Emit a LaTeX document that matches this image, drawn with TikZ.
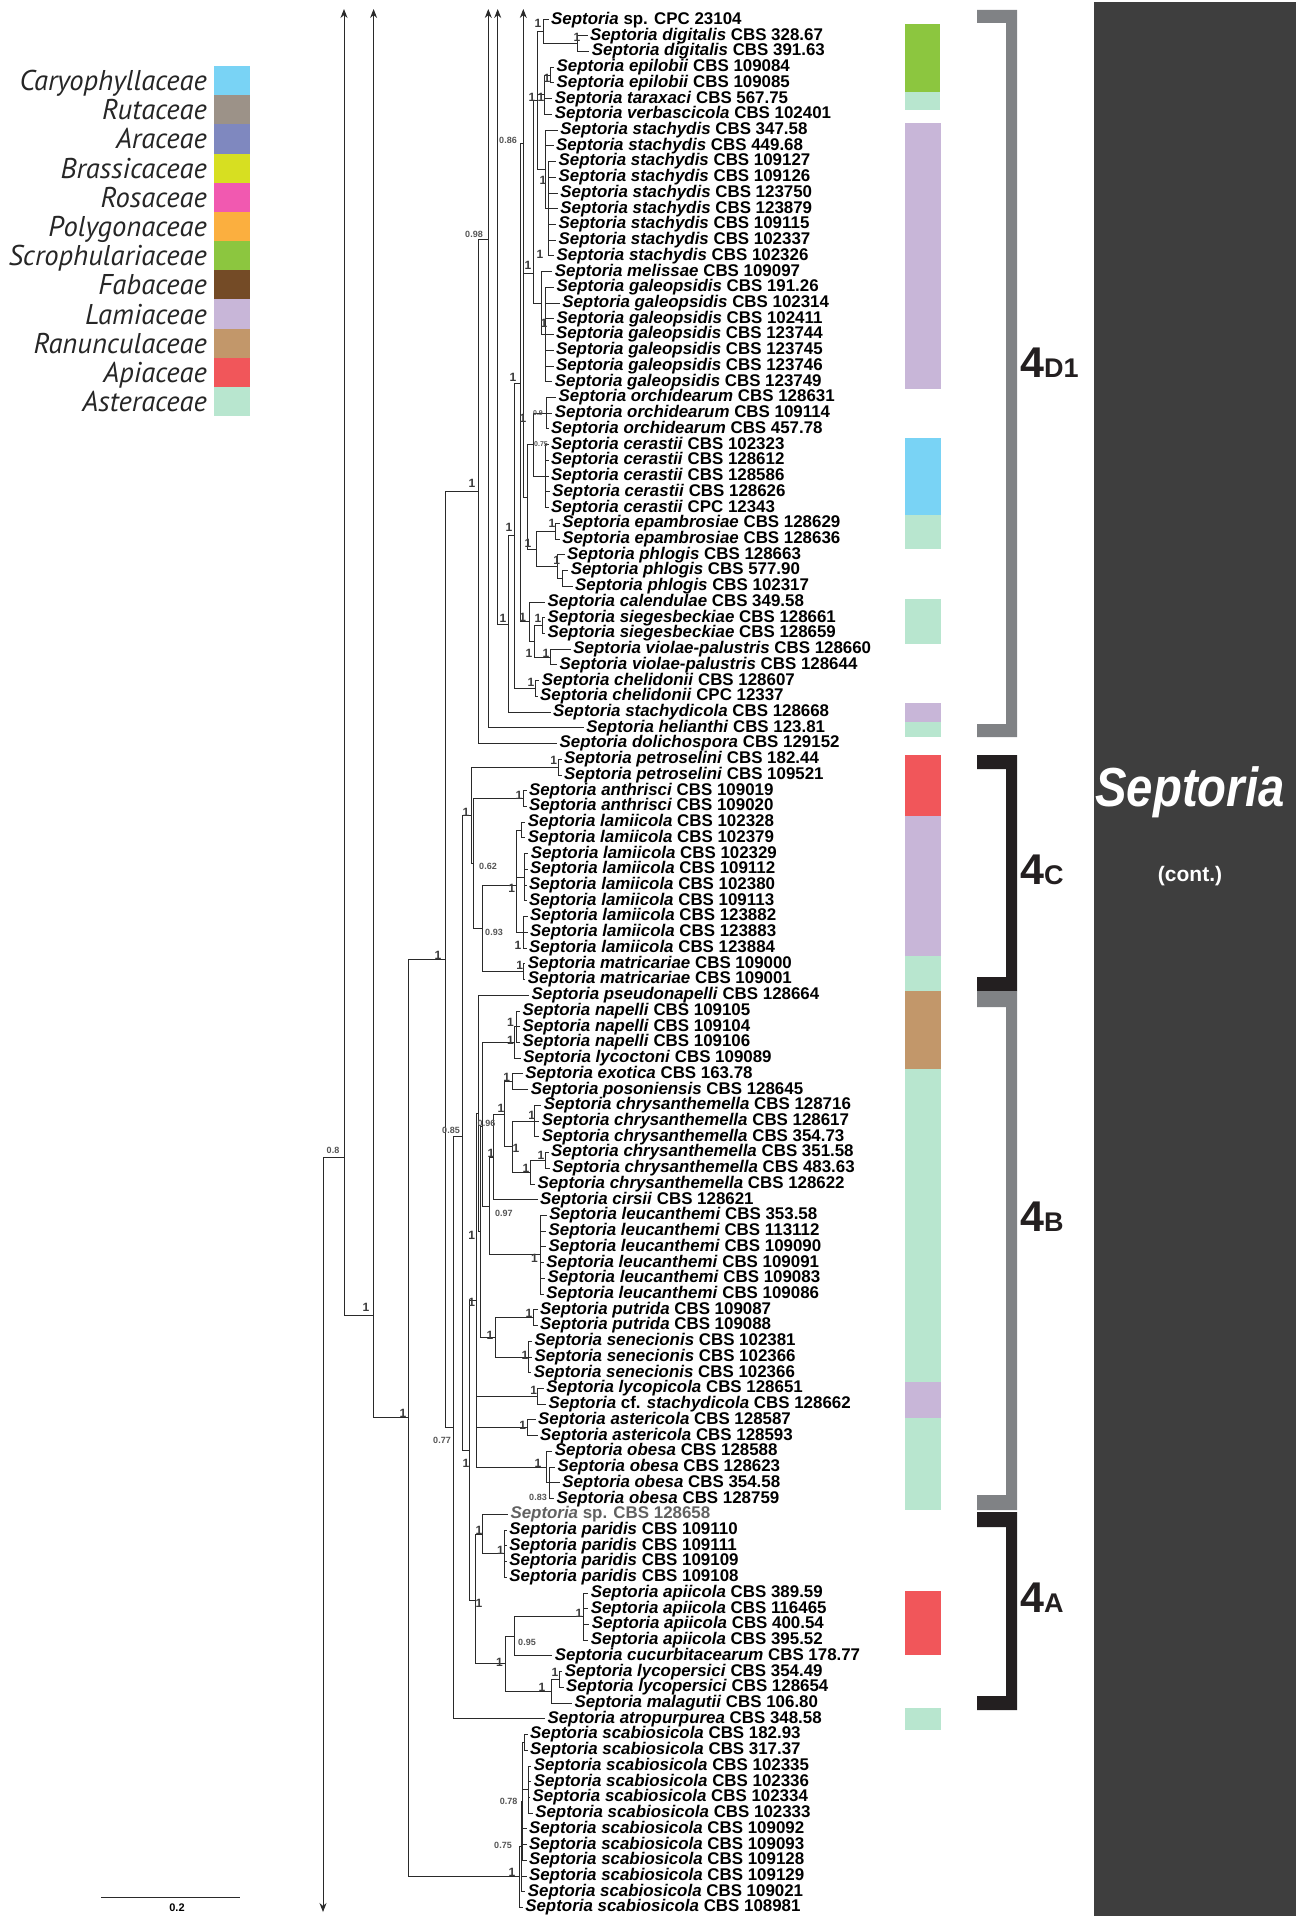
\documentclass[tikz,border=0pt]{standalone}
\usepackage{fontspec}
\setmainfont{Liberation Sans}
\newfontfamily\legfont{PT Sans}
\newfontfamily\panelfont[FakeStretch=0.86]{Liberation Sans}
\usetikzlibrary{arrows.meta}
\definecolor{treec}{HTML}{2A2A2A}
\definecolor{supc}{HTML}{3A3A3A}
\definecolor{decc}{HTML}{555555}
\definecolor{caryo}{HTML}{79D3F5}
\definecolor{ruta}{HTML}{9C9288}
\definecolor{ara}{HTML}{7F88BF}
\definecolor{brass}{HTML}{D7DF21}
\definecolor{rosa}{HTML}{F159B0}
\definecolor{poly}{HTML}{FBAF3F}
\definecolor{scro}{HTML}{8CC63F}
\definecolor{faba}{HTML}{744B26}
\definecolor{lami}{HTML}{C8B6D8}
\definecolor{ranu}{HTML}{C2976A}
\definecolor{apia}{HTML}{F1565A}
\definecolor{aste}{HTML}{B8E6CF}
\definecolor{brgrey}{HTML}{808285}
\definecolor{brblack}{HTML}{231F20}
\definecolor{panel}{HTML}{3E3E3E}
\newcommand\Sep[1]{\textit{Septoria #1}}
\newcommand\Gen{\textit{Septoria}}
\newcommand\taxfont{\fontsize{16.9}{17}\selectfont\bfseries}
\newcommand\edg[2]{\draw[br] (#1) |- (#2);}
\newcommand\tipe[2]{\draw[br] (#1) |- (n#2.west);}
\newcommand\tipes[2]{\foreach \k in {#2}{\draw[br] (#1) |- (n\k.west);}}
\begin{document}
\begin{tikzpicture}[x=1pt,y=-1pt,
  br/.style={line width=1.0pt, draw=treec, line cap=rect},
  arr/.style={-{Stealth[length=9pt,width=7pt]}},
  tax/.style={anchor=west, inner sep=0pt, outer xsep=3pt, outer ysep=0pt, font=\taxfont, text=black},
  sup/.style={inner sep=0pt, font=\fontsize{12}{12}\selectfont\bfseries, text=supc},
  dec/.style={inner sep=0pt, font=\fontsize{9}{9}\selectfont\bfseries, text=decc},
  leg/.style={anchor=base east, inner sep=0pt, font=\legfont\itshape\fontsize{28.6}{28.6}\selectfont, text=black!85},
  grp/.style={anchor=base west, inner sep=0pt, text=brblack}]
\useasboundingbox (0,0) rectangle (1301,1916);

% ---------------- legend ----------------
\foreach \c [count=\i from 0] in {caryo,ruta,ara,brass,rosa,poly,scro,faba,lami,ranu,apia,aste}
  \fill[\c] (214,{66+29.17*\i}) rectangle (250,{66+29.17*(\i+1)});
\node[leg] (g1) at (207,90.6) {Caryophyllaceae};
\node[leg] (g2) at (207,119.8) {Rutaceae};
\node[leg] (g3) at (207,148.9) {Araceae};
\node[leg] (g4) at (207,178.1) {Brassicaceae};
\node[leg] (g5) at (207,207.3) {Rosaceae};
\node[leg] (g6) at (207,236.5) {Polygonaceae};
\node[leg] (g7) at (207,265.6) {Scrophulariaceae};
\node[leg] (g8) at (207,294.8) {Fabaceae};
\node[leg] (g9) at (207,324.0) {Lamiaceae};
\node[leg] (g10) at (207,353.1) {Ranunculaceae};
\node[leg] (g11) at (207,382.3) {Apiaceae};
\node[leg] (g12) at (207,411.5) {Asteraceae};

% ---------------- host colour strips ----------------
\fill[scro] (905,24) rectangle (940,92);
\fill[aste] (905,92) rectangle (940,110);
\fill[lami] (905,123) rectangle (941,389);
\fill[caryo] (905,437.5) rectangle (941,514.5);
\fill[aste] (905,514.5) rectangle (941,548.7);
\fill[aste] (905,599) rectangle (941,644);
\fill[lami] (905,702.7) rectangle (941,722);
\fill[aste] (905,722) rectangle (941,737);
\fill[apia] (905,755) rectangle (941,816);
\fill[lami] (905,816) rectangle (941,955.6);
\fill[aste] (905,955.6) rectangle (941,991);
\fill[ranu] (905,991) rectangle (941,1069);
\fill[aste] (905,1069) rectangle (941,1382);
\fill[lami] (905,1382) rectangle (941,1417.5);
\fill[aste] (905,1417.5) rectangle (941,1510);
\fill[apia] (905,1591) rectangle (941,1654.6);
\fill[aste] (905,1708) rectangle (941,1730);

% ---------------- brackets ----------------
\fill[brgrey] (977,10) rectangle (1017,23) (1006,10) rectangle (1017,737) (977,724) rectangle (1017,737);
\fill[brblack] (977,755) rectangle (1017,769) (1006,755) rectangle (1017,991) (977,977) rectangle (1017,991);
\fill[brgrey] (977,991) rectangle (1017,1007) (1006,991) rectangle (1017,1510) (977,1495) rectangle (1017,1510);
\fill[brblack] (977,1512) rectangle (1017,1527) (1006,1512) rectangle (1017,1710) (977,1696) rectangle (1017,1710);
\node[grp] (q1) at (1020,377) {\fontsize{43}{43}\selectfont\bfseries 4\fontsize{27}{27}\selectfont D1};
\node[grp] (q2) at (1020,884) {\fontsize{43}{43}\selectfont\bfseries 4\fontsize{27}{27}\selectfont C};
\node[grp] (q3) at (1020,1231) {\fontsize{43}{43}\selectfont\bfseries 4\fontsize{27}{27}\selectfont B};
\node[grp] (q4) at (1020,1612) {\fontsize{43}{43}\selectfont\bfseries 4\fontsize{27}{27}\selectfont A};

% ---------------- dark panel ----------------
\fill[panel] (1094,2) rectangle (1296,1916);
\node[inner sep=0pt, text=white, font=\panelfont\bfseries\itshape\fontsize{55}{55}\selectfont] (pt) at (1190,792) {Septoria};
\node[inner sep=0pt, text=white, font=\bfseries\fontsize{21}{21}\selectfont] (pc) at (1190,876) {(cont.)};

% ---------------- taxa ----------------
\node[tax] (n1) at (548.2,20) {\Gen{} sp. CPC 23104};
\node[tax] (n2) at (587,35.73) {\Sep{digitalis} CBS 328.67};
\node[tax] (n3) at (588.9,51.46) {\Sep{digitalis} CBS 391.63};
\node[tax] (n4) at (553.7,67.19) {\Sep{epilobii} CBS 109084};
\node[tax] (n5) at (553.7,82.92) {\Sep{epilobii} CBS 109085};
\node[tax] (n6) at (551.9,98.65) {\Sep{taraxaci} CBS 567.75};
\node[tax] (n7) at (551.9,114.38) {\Sep{verbascicola} CBS 102401};
\node[tax] (n8) at (557.4,130.11) {\Sep{stachydis} CBS 347.58};
\node[tax] (n9) at (553,145.84) {\Sep{stachydis} CBS 449.68};
\node[tax] (n10) at (555.6,161.57) {\Sep{stachydis} CBS 109127};
\node[tax] (n11) at (555.6,177.3) {\Sep{stachydis} CBS 109126};
\node[tax] (n12) at (557.4,193.03) {\Sep{stachydis} CBS 123750};
\node[tax] (n13) at (557.4,208.76) {\Sep{stachydis} CBS 123879};
\node[tax] (n14) at (555.6,224.49) {\Sep{stachydis} CBS 109115};
\node[tax] (n15) at (555.6,240.22) {\Sep{stachydis} CBS 102337};
\node[tax] (n16) at (553.7,255.95) {\Sep{stachydis} CBS 102326};
\node[tax] (n17) at (551.9,271.68) {\Sep{melissae} CBS 109097};
\node[tax] (n18) at (553.7,287.41) {\Sep{galeopsidis} CBS 191.26};
\node[tax] (n19) at (559.3,303.14) {\Sep{galeopsidis} CBS 102314};
\node[tax] (n20) at (553.7,318.87) {\Sep{galeopsidis} CBS 102411};
\node[tax] (n21) at (553,334.6) {\Sep{galeopsidis} CBS 123744};
\node[tax] (n22) at (553,350.33) {\Sep{galeopsidis} CBS 123745};
\node[tax] (n23) at (553,366.06) {\Sep{galeopsidis} CBS 123746};
\node[tax] (n24) at (551.9,381.79) {\Sep{galeopsidis} CBS 123749};
\node[tax] (n25) at (555.6,397.52) {\Sep{orchidearum} CBS 128631};
\node[tax] (n26) at (551.9,413.25) {\Sep{orchidearum} CBS 109114};
\node[tax] (n27) at (548.2,428.98) {\Sep{orchidearum} CBS 457.78};
\node[tax] (n28) at (548.2,444.71) {\Sep{cerastii} CBS 102323};
\node[tax] (n29) at (548.2,460.44) {\Sep{cerastii} CBS 128612};
\node[tax] (n30) at (548.2,476.17) {\Sep{cerastii} CBS 128586};
\node[tax] (n31) at (549.3,491.9) {\Sep{cerastii} CBS 128626};
\node[tax] (n32) at (548.2,507.63) {\Sep{cerastii} CPC 12343};
\node[tax] (n33) at (559.3,523.36) {\Sep{epambrosiae} CBS 128629};
\node[tax] (n34) at (559.3,539.09) {\Sep{epambrosiae} CBS 128636};
\node[tax] (n35) at (564.1,554.82) {\Sep{phlogis} CBS 128663};
\node[tax] (n36) at (567.8,570.55) {\Sep{phlogis} CBS 577.90};
\node[tax] (n37) at (572.2,586.28) {\Sep{phlogis} CBS 102317};
\node[tax] (n38) at (544.5,602.01) {\Sep{calendulae} CBS 349.58};
\node[tax] (n39) at (544.5,617.74) {\Sep{siegesbeckiae} CBS 128661};
\node[tax] (n40) at (544.5,633.47) {\Sep{siegesbeckiae} CBS 128659};
\node[tax] (n41) at (570.4,649.2) {\Sep{violae-palustris} CBS 128660};
\node[tax] (n42) at (556.7,664.93) {\Sep{violae-palustris} CBS 128644};
\node[tax] (n43) at (538.9,680.66) {\Sep{chelidonii} CBS 128607};
\node[tax] (n44) at (537.1,696.39) {\Sep{chelidonii} CPC 12337};
\node[tax] (n45) at (550,712.12) {\Sep{stachydicola} CBS 128668};
\node[tax] (n46) at (583.3,727.85) {\Sep{helianthi} CBS 123.81};
\node[tax] (n47) at (556.7,743.58) {\Sep{dolichospora} CBS 129152};
\node[tax] (n48) at (561.1,759.31) {\Sep{petroselini} CBS 182.44};
\node[tax] (n49) at (561.1,775.04) {\Sep{petroselini} CBS 109521};
\node[tax] (n50) at (526,790.77) {\Sep{anthrisci} CBS 109019};
\node[tax] (n51) at (526,806.5) {\Sep{anthrisci} CBS 109020};
\node[tax] (n52) at (524.9,822.23) {\Sep{lamiicola} CBS 102328};
\node[tax] (n53) at (524.9,837.96) {\Sep{lamiicola} CBS 102379};
\node[tax] (n54) at (527.8,853.69) {\Sep{lamiicola} CBS 102329};
\node[tax] (n55) at (527.1,869.42) {\Sep{lamiicola} CBS 109112};
\node[tax] (n56) at (526,885.15) {\Sep{lamiicola} CBS 102380};
\node[tax] (n57) at (526,900.88) {\Sep{lamiicola} CBS 109113};
\node[tax] (n58) at (527.1,916.61) {\Sep{lamiicola} CBS 123882};
\node[tax] (n59) at (527.1,932.34) {\Sep{lamiicola} CBS 123883};
\node[tax] (n60) at (526,948.07) {\Sep{lamiicola} CBS 123884};
\node[tax] (n61) at (524.9,963.8) {\Sep{matricariae} CBS 109000};
\node[tax] (n62) at (524.9,979.53) {\Sep{matricariae} CBS 109001};
\node[tax] (n63) at (528.6,995.26) {\Sep{pseudonapelli} CBS 128664};
\node[tax] (n64) at (519.7,1010.99) {\Sep{napelli} CBS 109105};
\node[tax] (n65) at (519.7,1026.72) {\Sep{napelli} CBS 109104};
\node[tax] (n66) at (519.7,1042.45) {\Sep{napelli} CBS 109106};
\node[tax] (n67) at (520.4,1058.18) {\Sep{lycoctoni} CBS 109089};
\node[tax] (n68) at (522.3,1073.91) {\Sep{exotica} CBS 163.78};
\node[tax] (n69) at (527.8,1089.64) {\Sep{posoniensis} CBS 128645};
\node[tax] (n70) at (540.8,1105.37) {\Sep{chrysanthemella} CBS 128716};
\node[tax] (n71) at (538.9,1121.1) {\Sep{chrysanthemella} CBS 128617};
\node[tax] (n72) at (538.9,1136.83) {\Sep{chrysanthemella} CBS 354.73};
\node[tax] (n73) at (548.2,1152.56) {\Sep{chrysanthemella} CBS 351.58};
\node[tax] (n74) at (549.3,1168.29) {\Sep{chrysanthemella} CBS 483.63};
\node[tax] (n75) at (534.5,1184.02) {\Sep{chrysanthemella} CBS 128622};
\node[tax] (n76) at (537.1,1199.75) {\Sep{cirsii} CBS 128621};
\node[tax] (n77) at (546.3,1215.48) {\Sep{leucanthemi} CBS 353.58};
\node[tax] (n78) at (545.6,1231.21) {\Sep{leucanthemi} CBS 113112};
\node[tax] (n79) at (545.6,1246.94) {\Sep{leucanthemi} CBS 109090};
\node[tax] (n80) at (543.4,1262.67) {\Sep{leucanthemi} CBS 109091};
\node[tax] (n81) at (544.5,1278.4) {\Sep{leucanthemi} CBS 109083};
\node[tax] (n82) at (543.4,1294.13) {\Sep{leucanthemi} CBS 109086};
\node[tax] (n83) at (537.1,1309.86) {\Sep{putrida} CBS 109087};
\node[tax] (n84) at (537.1,1325.59) {\Sep{putrida} CBS 109088};
\node[tax] (n85) at (531.5,1341.32) {\Sep{senecionis} CBS 102381};
\node[tax] (n86) at (531.5,1357.05) {\Sep{senecionis} CBS 102366};
\node[tax] (n87) at (530.8,1372.78) {\Sep{senecionis} CBS 102366};
\node[tax] (n88) at (543.4,1388.51) {\Sep{lycopicola} CBS 128651};
\node[tax] (n89) at (545.6,1404.24) {\Gen{} cf. \textit{stachydicola} CBS 128662};
\node[tax] (n90) at (535.2,1419.97) {\Sep{astericola} CBS 128587};
\node[tax] (n91) at (537.1,1435.7) {\Sep{astericola} CBS 128593};
\node[tax] (n92) at (551.9,1451.43) {\Sep{obesa} CBS 128588};
\node[tax] (n93) at (554.5,1467.16) {\Sep{obesa} CBS 128623};
\node[tax] (n94) at (559.3,1482.89) {\Sep{obesa} CBS 354.58};
\node[tax] (n95) at (553.7,1498.62) {\Sep{obesa} CBS 128759};
\node[tax, text=black!62] (n96) at (507.5,1514.35) {\Gen{} sp. CBS 128658};
\node[tax] (n97) at (506.4,1530.08) {\Sep{paridis} CBS 109110};
\node[tax] (n98) at (506.4,1545.81) {\Sep{paridis} CBS 109111};
\node[tax] (n99) at (506.4,1561.54) {\Sep{paridis} CBS 109109};
\node[tax] (n100) at (506.4,1577.27) {\Sep{paridis} CBS 109108};
\node[tax] (n101) at (587.8,1593) {\Sep{apiicola} CBS 389.59};
\node[tax] (n102) at (587.8,1608.73) {\Sep{apiicola} CBS 116465};
\node[tax] (n103) at (588.9,1624.46) {\Sep{apiicola} CBS 400.54};
\node[tax] (n104) at (587.8,1640.19) {\Sep{apiicola} CBS 395.52};
\node[tax] (n105) at (551.9,1655.92) {\Sep{cucurbitacearum} CBS 178.77};
\node[tax] (n106) at (561.9,1671.65) {\Sep{lycopersici} CBS 354.49};
\node[tax] (n107) at (563,1687.38) {\Sep{lycopersici} CBS 128654};
\node[tax] (n108) at (571.5,1703.11) {\Sep{malagutii} CBS 106.80};
\node[tax] (n109) at (544.5,1718.84) {\Sep{atropurpurea} CBS 348.58};
\node[tax] (n110) at (527.1,1734.57) {\Sep{scabiosicola} CBS 182.93};
\node[tax] (n111) at (527.1,1750.3) {\Sep{scabiosicola} CBS 317.37};
\node[tax] (n112) at (530.8,1766.03) {\Sep{scabiosicola} CBS 102335};
\node[tax] (n113) at (530.8,1781.76) {\Sep{scabiosicola} CBS 102336};
\node[tax] (n114) at (529.7,1797.49) {\Sep{scabiosicola} CBS 102334};
\node[tax] (n115) at (532.3,1813.22) {\Sep{scabiosicola} CBS 102333};
\node[tax] (n116) at (526,1828.95) {\Sep{scabiosicola} CBS 109092};
\node[tax] (n117) at (526,1844.68) {\Sep{scabiosicola} CBS 109093};
\node[tax] (n118) at (526,1860.41) {\Sep{scabiosicola} CBS 109128};
\node[tax] (n119) at (526,1876.14) {\Sep{scabiosicola} CBS 109129};
\node[tax] (n120) at (524.9,1891.87) {\Sep{scabiosicola} CBS 109021};
\node[tax] (n121) at (522.3,1907.6) {\Sep{scabiosicola} CBS 108981};

% ---------------- internal nodes ----------------
\coordinate (A) at (323,1157);
\coordinate (B) at (344,1157);
\coordinate (C) at (373.6,1315);
\coordinate (D) at (408.8,1417.7);
\coordinate (E) at (445.8,959.4);
\coordinate (F) at (478.3,491.3);
\coordinate (G) at (453.2,1427.4);
\coordinate (H) at (462.4,1136);
\coordinate (I) at (488.3,239);
\coordinate (J) at (497.7,624);
\coordinate (M) at (508.3,624);
\coordinate (N) at (514.3,535.7);
\coordinate (O) at (520.7,383);
\coordinate (K) at (523.3,144);
\coordinate (T) at (533.3,273);
\coordinate (R) at (537.7,101);
\coordinate (P1) at (543.3,31.8);
\coordinate (DIG) at (577.5,43.6);
\coordinate (Q) at (544,94.7);
\coordinate (EPI) at (550.5,75.05);
\coordinate (V) at (545,169.4);
\coordinate (STA) at (548.5,208.76);
\coordinate (W) at (541,303.1);
\coordinate (GAL) at (545,334.6);
\coordinate (X) at (527.7,497);
\coordinate (U) at (533.8,444.7);
\coordinate (ORC) at (546,413.25);
\coordinate (CER) at (545.6,476.17);
\coordinate (EP) at (536.7,549);
\coordinate (EPA) at (555,531.2);
\coordinate (PHL) at (557,566.7);
\coordinate (PN) at (562,578.4);
\coordinate (CAL) at (529,621.7);
\coordinate (SV) at (534.5,641.4);
\coordinate (SIE) at (542,625.6);
\coordinate (VIO) at (550,657.1);
\coordinate (CHE) at (535,688.5);
% 4C
\coordinate (C4) at (471.7,815);
\coordinate (PET) at (558,767.2);
\coordinate (Y) at (473.5,863);
\coordinate (ANT) at (523.5,798.6);
\coordinate (Z) at (482.8,928);
\coordinate (LAM) at (516,885);
\coordinate (L1) at (521.5,830.1);
\coordinate (L2) at (524,877.3);
\coordinate (L3) at (523.5,932.3);
\coordinate (MAT) at (523,971.7);
% 4B
\coordinate (A4p) at (469,1450);
\coordinate (B4) at (476.5,1300);
\coordinate (BB) at (478,1113);
\coordinate (PQ) at (480,1231.5);
\coordinate (NB) at (482.8,1126);
\coordinate (NAP) at (514.2,1042.5);
\coordinate (NAP1) at (516.5,1026.7);
\coordinate (NL) at (489.4,1206);
\coordinate (NC) at (493,1157);
\coordinate (EC) at (504.2,1114);
\coordinate (EXP) at (512.3,1081.8);
\coordinate (CH) at (512.3,1146.7);
\coordinate (C1) at (534.5,1121.1);
\coordinate (C2) at (530.8,1172.2);
\coordinate (C3) at (545.6,1160.4);
\coordinate (LEU) at (540,1254.8);
\coordinate (PS) at (495.7,1337);
\coordinate (PUT) at (533,1317.7);
\coordinate (SEN) at (528,1357);
\coordinate (LYC) at (537.5,1396.4);
\coordinate (AST) at (527,1427.8);
\coordinate (OBE) at (546.4,1467);
\coordinate (O2) at (549.5,1482.9);
% 4A
\coordinate (A4) at (475.4,1600);
\coordinate (SPP) at (482.8,1534);
\coordinate (PAR) at (504.7,1553.7);
\coordinate (APL) at (505,1663.8);
\coordinate (AC) at (514.2,1636.3);
\coordinate (APC) at (583.4,1616.6);
\coordinate (LM) at (551.2,1691.3);
\coordinate (LYP) at (559.7,1679.5);
% scabiosicola
\coordinate (SC) at (519.7,1876);
\coordinate (SC1) at (521.6,1846);
\coordinate (SC2) at (522.7,1801.4);
\coordinate (SC3) at (524.5,1742.4);
\coordinate (SC4) at (528.5,1789.6);
% arrow ends
\coordinate (Ab) at (323,1912);
\coordinate (Bt) at (344,9);
\coordinate (Ct) at (373.6,9);
\coordinate (It) at (488.3,9);
\coordinate (Jt) at (497.7,9);
\coordinate (Kt) at (523.3,9);

% ---------------- branches ----------------
\draw[br] (A) -- (B);
\draw[br,arr] (A) -- (Ab);
\draw[br,arr] (B) -- (Bt);
\draw[br,arr] (C) -- (Ct);
\draw[br,arr] (I) -- (It);
\draw[br,arr] (J) -- (Jt);
\draw[br,arr] (K) -- (Kt);
\edg{B}{C} \edg{C}{D} \edg{D}{E} \edg{D}{SC}
\edg{E}{F} \edg{E}{G} \edg{F}{I} \tipe{F}{47} \tipe{I}{46}
\edg{G}{H} \tipe{G}{109} \edg{H}{C4} \edg{H}{A4p}
\draw[br] (J) -- (M);
\edg{M}{N} \tipe{M}{45} \edg{N}{O} \edg{N}{CHE} \tipes{CHE}{43,44}
\edg{O}{K} \edg{O}{CAL} \edg{K}{T} \edg{K}{X}
\edg{T}{R} \edg{T}{W}
\edg{R}{P1} \edg{R}{Q} \edg{R}{V}
\tipe{P1}{1} \edg{P1}{DIG} \tipes{DIG}{2,3}
\edg{Q}{EPI} \tipes{Q}{6,7} \tipes{EPI}{4,5}
\tipes{V}{8,9} \edg{V}{STA} \tipes{STA}{10,11,12,13,14,15,16}
\tipe{W}{17} \edg{W}{GAL} \tipes{GAL}{18,19,20,21,22,23,24}
\edg{X}{U} \edg{X}{EP}
\edg{U}{ORC} \edg{U}{CER} \tipes{ORC}{25,26,27} \tipes{CER}{28,29,30,31,32}
\edg{EP}{EPA} \edg{EP}{PHL} \tipes{EPA}{33,34} \tipe{PHL}{35} \edg{PHL}{PN} \tipes{PN}{36,37}
\tipe{CAL}{38} \edg{CAL}{SV} \edg{SV}{SIE} \edg{SV}{VIO} \tipes{SIE}{39,40} \tipes{VIO}{41,42}
% 4C
\edg{C4}{PET} \edg{C4}{Y} \tipes{PET}{48,49}
\edg{Y}{ANT} \edg{Y}{Z} \tipes{ANT}{50,51}
\edg{Z}{LAM} \edg{Z}{MAT} \tipes{MAT}{61,62}
\edg{LAM}{L1} \edg{LAM}{L2} \edg{LAM}{L3}
\tipes{L1}{52,53} \tipes{L2}{54,55,56,57} \tipes{L3}{58,59,60}
% 4B
\edg{A4p}{B4} \edg{A4p}{A4}
\edg{B4}{BB} \edg{B4}{LYC} \edg{B4}{AST} \edg{B4}{OBE}
\tipe{BB}{63} \edg{BB}{PQ}
\edg{PQ}{NB} \edg{PQ}{PS}
\edg{NB}{NAP} \edg{NB}{NL}
\edg{NAP}{NAP1} \tipe{NAP}{67} \tipes{NAP1}{64,65,66}
\edg{NL}{NC} \edg{NL}{LEU} \tipes{LEU}{77,78,79,80,81,82}
\edg{NC}{EC} \tipe{NC}{76}
\edg{EC}{EXP} \edg{EC}{CH} \tipes{EXP}{68,69}
\edg{CH}{C1} \edg{CH}{C2} \tipes{C1}{70,71,72} \edg{C2}{C3} \tipe{C2}{75} \tipes{C3}{73,74}
\edg{PS}{PUT} \edg{PS}{SEN} \tipes{PUT}{83,84} \tipes{SEN}{85,86,87}
\tipes{LYC}{88,89} \tipes{AST}{90,91}
\tipe{OBE}{92} \edg{OBE}{O2} \tipes{O2}{93,94,95}
% 4A
\edg{A4}{SPP} \edg{A4}{APL}
\tipe{SPP}{96} \edg{SPP}{PAR} \tipes{PAR}{97,98,99,100}
\edg{APL}{AC} \edg{APL}{LM}
\edg{AC}{APC} \tipe{AC}{105} \tipes{APC}{101,102,103,104}
\edg{LM}{LYP} \tipe{LM}{108} \tipes{LYP}{106,107}
% scabiosicola
\edg{SC}{SC1} \tipe{SC}{121}
\edg{SC1}{SC2} \tipes{SC1}{119,120}
\edg{SC2}{SC3} \edg{SC2}{SC4} \tipes{SC2}{116,117,118}
\tipes{SC3}{110,111} \tipes{SC4}{112,113,114,115}

% ---------------- support values ----------------
\node[dec] (d1) at (333,1150) {0.8};
\node[dec] (d2) at (442,1440) {0.77};
\node[dec] (d3) at (451,1130) {0.85};
\node[dec] (d4) at (474,234) {0.98};
\node[dec] (d5) at (508,140) {0.86};
\node[dec, font=\fontsize{7}{7}\selectfont\bfseries] (d6) at (538,413) {0.9};
\node[dec, font=\fontsize{7}{7}\selectfont\bfseries] (d7) at (541,444) {0.75};
\node[dec] (d8) at (488,866) {0.62};
\node[dec] (d9) at (494,932) {0.93};
\node[dec] (d10) at (486.5,1123) {0.96};
\node[dec] (d11) at (503.8,1213) {0.97};
\node[dec] (d12) at (538,1497) {0.83};
\node[dec] (d13) at (527,1642) {0.95};
\node[dec] (d14) at (508.6,1801) {0.78};
\node[dec] (d15) at (503,1845) {0.75};
\foreach \x/\y [count=\i] in {366/1307,403/1413,438/955,512/1872,472/483,503/618,538/23,577/37,547/78,532/97,541/97,543/180,528/265,540/254,544/323,513/377,523/418,528/543,552/523,556.7/560,509/527,522.7/617,538/618,529/653,546/653,531/682,466/812,553.8/760,519/795,511.6/888,519.7/965,518/945,471.7/1302,471.7/1235,510.5/1040,510.5/1022,506.8/1077,501/1108,531.6/1115,541/1155,526/1168,516/1148,491/1153,534.5/1258,490/1335,529/1313,525/1355,533.8/1390,522.7/1425,538/1463,466/1463,479/1603,479/1530,500.5/1550,579/1613,499.4/1662,542/1687,555/1672}
  \node[sup] (s\i) at (\x,\y) {1};

% ---------------- scale bar ----------------
\draw[line width=1pt, treec] (101,1897) -- (240,1897);
\node[inner sep=0pt, font=\fontsize{11}{11}\selectfont\bfseries] (sb) at (177,1908) {0.2};
\end{tikzpicture}
\end{document}
